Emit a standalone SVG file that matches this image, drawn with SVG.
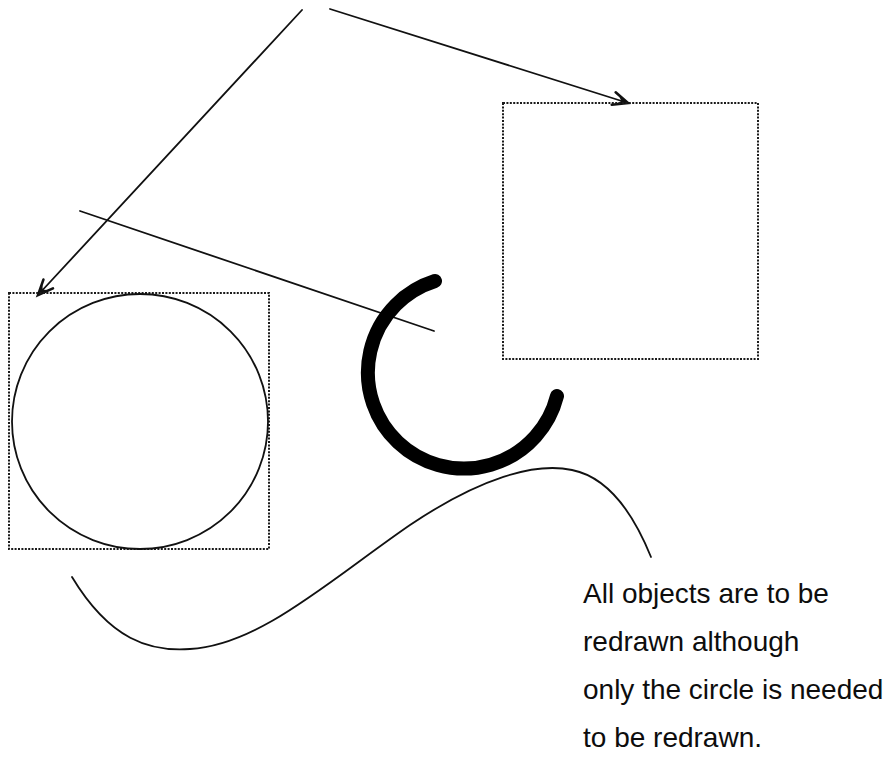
<svg xmlns="http://www.w3.org/2000/svg" width="886" height="765" viewBox="0 0 886 765">
<style>
.ln{fill:none;stroke:#111;stroke-width:1.8;stroke-linecap:round}
.dot{fill:none;stroke:#1a1a1a;stroke-width:2;stroke-dasharray:2 1.4}
.txt{font-family:"Liberation Sans",Arial,Helvetica,sans-serif;font-size:28px;fill:#0d0d0d}
</style>
<defs>
<marker id="ah" markerUnits="userSpaceOnUse" markerWidth="24" markerHeight="24" viewBox="-20 -12 24 24" refX="0" refY="0" orient="auto">
<path d="M-15,-6.5 L0,0 L-15,6.5" fill="none" stroke="#111" stroke-width="2.6" stroke-linecap="round" stroke-linejoin="miter"/>
<path d="M0.5,0 L-11,-4.5 L-7,0 L-11,4.5 Z" fill="#111"/>
</marker>
</defs>
<rect width="886" height="765" fill="#fff"/>
<g id="connectors">
<line class="ln" x1="302" y1="10" x2="38" y2="295" marker-end="url(#ah)"/>
<line class="ln" x1="330" y1="9" x2="628" y2="103" marker-end="url(#ah)"/>
</g>
<g id="left-box">
<rect class="dot" x="9" y="293" width="260" height="256"/>
</g>
<g id="circle">
<ellipse class="ln" cx="140" cy="421.5" rx="128" ry="127.5"/>
</g>
<g id="right-box">
<rect class="dot" x="503" y="103" width="255" height="256"/>
</g>
<g id="line">
<line class="ln" x1="80" y1="211" x2="434" y2="331"/>
</g>
<g id="thick-arc">
<path d="M435,281 A96,96 0 1 0 557,396" fill="none" stroke="#000" stroke-width="14" stroke-linecap="round"/>
</g>
<g id="wave">
<path class="ln" d="M72,577 C110,640 150,652 190,649 C260,645 330,580 410,525 C480,478 535,462 572,470 C612,478 636,520 651,557"/>
</g>
<g id="note">
<text class="txt" x="583" y="603">All objects are to be</text>
<text class="txt" x="583" y="651">redrawn although</text>
<text class="txt" x="583" y="699">only the circle is needed</text>
<text class="txt" x="583" y="747">to be redrawn.</text>
</g>
</svg>
